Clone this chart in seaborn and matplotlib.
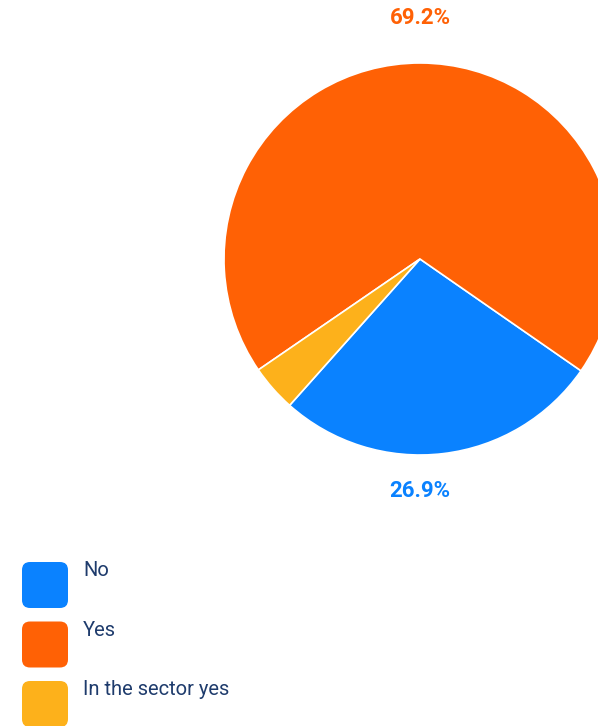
import matplotlib
matplotlib.use("Agg")
import matplotlib.pyplot as plt
from matplotlib.patches import FancyBboxPatch
import seaborn as sns

# Survey answers (counts out of 26 respondents)
categories = ["No", "Yes", "In the sector yes"]
counts = [7, 18, 1]
colors = ["#0A82FF", "#FF6105", "#FDB11B"]
show_label = [True, True, False]

sns.set_theme(style="white")
plt.rcParams["font.family"] = ["Roboto", "DejaVu Sans"]

W, H = 598, 726
fig = plt.figure(figsize=(W / 100, H / 100), dpi=100)
ax = fig.add_axes([0, 0, 1, 1])

cx, cy, r = 420, H - 259, 196
start = -131.7
palette = sns.color_palette(colors)

wedges, _ = ax.pie(
    counts,
    colors=palette,
    startangle=start,
    counterclock=True,
    center=(cx, cy),
    radius=r,
    wedgeprops=dict(edgecolor="white", linewidth=1.2),
    frame=True,
)
ax.set_xlim(0, W)
ax.set_ylim(0, H)
ax.set_aspect("equal")
ax.axis("off")

total = sum(counts)
offsets = {"No": -232, "Yes": 241}
for cat, val, col, show in zip(categories, counts, colors, show_label):
    if not show:
        continue
    pct = 100 * val / total
    ax.text(cx, cy + offsets[cat], f"{pct:.1f}%", color=col, fontsize=16,
            fontweight="bold", ha="center", va="center")

# Legend with rounded squares
text_color = "#1E3B6C"
for i, (cat, col) in enumerate(zip(categories, colors)):
    top = 562 + i * 59.5
    box = FancyBboxPatch((22 + 8, H - top - 46 + 8), 46 - 16, 46 - 16,
                         boxstyle="round,pad=8", facecolor=col, edgecolor="none",
                         clip_on=False)
    ax.add_patch(box)
    ax.text(83, H - top + 1, cat, color=text_color, fontsize=14.5,
            fontweight="normal", ha="left", va="top")

fig.savefig("out.png", dpi=100)
